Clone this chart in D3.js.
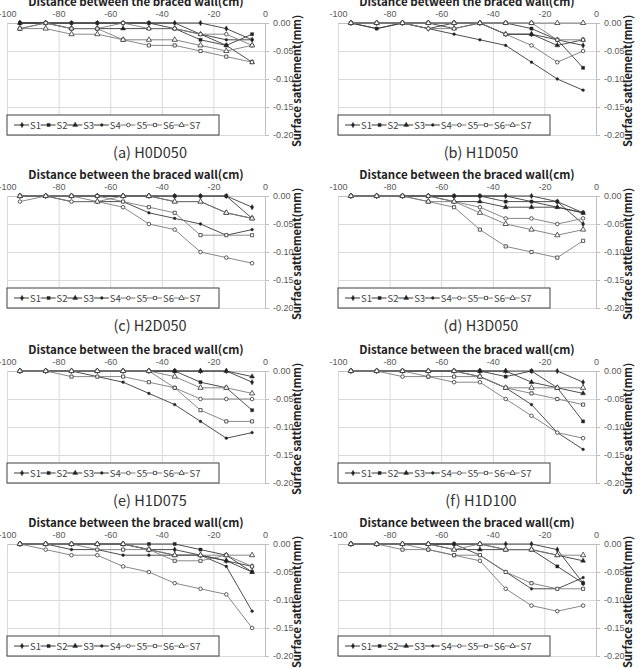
<!DOCTYPE html>
<html>
<head>
<meta charset="utf-8">
<script src="https://cdn.jsdelivr.net/npm/d3@7"></script>
<style>
  body { margin: 0; background: #fff; }
  svg { display: block; font-family: "Noto Sans CJK KR", "Noto Sans", sans-serif; }
</style>
</head>
<body>
<script>
// distance from the braced wall (cm)
var xValues = [-95, -85, -75, -65, -55, -45, -35, -25, -15, -5];
var seriesNames = ["S1", "S2", "S3", "S4", "S5", "S6", "S7"];
var xTicks = [-100, -80, -60, -40, -20, 0];
var yTicks = [0, -0.05, -0.10, -0.15, -0.20];
var captions = ["(a) H0D050", "(b) H1D050", "(c) H2D050", "(d) H3D050", "(e) H1D075", "(f) H1D100", null, null];

// surface settlement (mm), one row per series S1..S7
var h0d050 = [
  [0, 0, 0, 0, 0, 0, 0, 0, -0.01, -0.03],
  [0, 0, 0, 0, 0, 0, -0.01, -0.03, -0.04, -0.02],
  [0, 0, -0.01, -0.01, -0.01, -0.01, -0.01, -0.02, -0.04, -0.07],
  [0, 0, 0, 0, 0, 0, 0, -0.02, -0.03, -0.03],
  [-0.01, 0, -0.01, -0.01, 0, -0.01, -0.01, -0.02, -0.02, -0.04],
  [-0.01, 0, -0.01, -0.01, -0.03, -0.04, -0.04, -0.05, -0.06, -0.07],
  [-0.01, -0.01, -0.02, -0.02, -0.03, -0.03, -0.03, -0.04, -0.05, -0.04]
];
var h1d050 = [
  [0, 0, 0, -0.01, 0, 0, -0.02, -0.02, -0.03, -0.04],
  [0, -0.01, 0, 0, 0, 0, 0, -0.01, -0.03, -0.08],
  [0, 0, 0, 0, -0.01, 0, -0.02, -0.02, -0.04, -0.03],
  [0, -0.01, 0, -0.01, -0.02, -0.03, -0.04, -0.07, -0.10, -0.12],
  [0, 0, 0, -0.01, -0.01, 0, -0.02, -0.04, -0.07, -0.05],
  [0, 0, 0, 0, 0, 0, 0, 0, -0.03, -0.03],
  [0, 0, 0, 0, 0, 0, 0, 0, 0, 0]
];
var h2d050 = [
  [0, 0, 0, 0, 0, 0, 0, 0, 0, -0.02],
  [0, 0, 0, 0, 0, 0, 0, 0, 0, -0.04],
  [0, 0, 0, 0, 0, 0, -0.01, -0.01, -0.03, -0.04],
  [0, 0, -0.01, -0.01, -0.01, -0.03, -0.04, -0.05, -0.07, -0.06],
  [-0.01, 0, -0.01, -0.01, -0.02, -0.05, -0.06, -0.10, -0.11, -0.12],
  [0, 0, 0, 0, -0.01, -0.02, -0.03, -0.07, -0.07, -0.07],
  [0, 0, 0, -0.01, 0, 0, -0.01, -0.01, -0.03, -0.04]
];
var h3d050 = [
  [0, 0, 0, 0, 0, 0, 0, 0, -0.01, -0.05],
  [0, 0, 0, 0, 0, 0, -0.01, -0.01, -0.01, -0.03],
  [0, 0, 0, 0, -0.01, -0.01, -0.02, -0.02, -0.02, -0.03],
  [0, 0, 0, 0, 0, 0, 0, -0.01, -0.02, -0.03],
  [0, 0, 0, 0, -0.01, -0.02, -0.04, -0.04, -0.05, -0.04],
  [0, 0, 0, -0.01, -0.02, -0.06, -0.09, -0.10, -0.11, -0.08],
  [0, 0, 0, -0.01, -0.01, -0.03, -0.05, -0.06, -0.07, -0.06]
];
var h1d075 = [
  [0, 0, 0, 0, 0, 0, 0, 0, 0, -0.02],
  [0, 0, 0, 0, 0, 0, 0, -0.02, -0.03, -0.07],
  [0, 0, 0, 0, 0, 0, 0, 0, 0, -0.01],
  [0, 0, 0, -0.01, -0.02, -0.04, -0.06, -0.09, -0.12, -0.11],
  [0, 0, 0, 0, 0, 0, -0.03, -0.05, -0.05, -0.05],
  [0, 0, -0.01, -0.01, -0.01, -0.02, -0.03, -0.07, -0.09, -0.09],
  [0, 0, 0, 0, 0, 0, -0.01, -0.03, -0.03, -0.04]
];
var h1d100 = [
  [0, 0, 0, 0, 0, 0, 0, 0, 0, -0.02],
  [0, 0, 0, 0, 0, 0, -0.01, 0, -0.03, -0.09],
  [0, 0, 0, 0, 0, 0, 0, -0.02, -0.03, -0.04],
  [0, 0, 0, 0, 0, -0.01, -0.03, -0.06, -0.11, -0.14],
  [0, 0, -0.01, -0.01, -0.02, -0.02, -0.05, -0.08, -0.11, -0.12],
  [0, 0, 0, -0.01, -0.01, -0.01, -0.03, -0.04, -0.05, -0.06],
  [0, 0, 0, 0, 0, -0.01, -0.03, -0.03, -0.03, -0.03]
];
var panelG = [
  [0, 0, 0, 0, 0, -0.01, -0.01, -0.02, -0.03, -0.04],
  [0, 0, 0, 0, 0, 0, 0, -0.01, -0.02, -0.05],
  [0, 0, 0, 0, 0, -0.01, -0.02, -0.02, -0.03, -0.05],
  [0, 0, -0.01, -0.01, -0.02, -0.02, -0.02, -0.02, -0.04, -0.12],
  [0, -0.01, -0.02, -0.02, -0.04, -0.05, -0.07, -0.08, -0.09, -0.15],
  [0, 0, 0, -0.01, -0.01, -0.01, -0.03, -0.03, -0.02, -0.04],
  [0, 0, 0, 0, 0, -0.01, -0.02, -0.02, -0.02, -0.02]
];
var panelH = [
  [0, 0, 0, 0, 0, 0, 0, 0, -0.01, -0.07],
  [0, 0, 0, 0, 0, 0, -0.01, -0.01, -0.04, -0.07],
  [0, 0, 0, 0, -0.01, -0.01, -0.01, -0.01, -0.02, -0.03],
  [0, 0, 0, 0, 0, -0.02, -0.05, -0.08, -0.08, -0.06],
  [0, 0, 0, -0.01, -0.02, -0.03, -0.08, -0.11, -0.12, -0.11],
  [0, 0, -0.01, -0.01, -0.02, -0.02, -0.05, -0.07, -0.08, -0.08],
  [0, 0, 0, 0, -0.01, 0, -0.01, -0.01, -0.02, -0.02]
];
var panels = [h0d050, h1d050, h2d050, h3d050, h1d075, h1d100, panelG, panelH];

// marker style per series
var symbols = [d3.symbolDiamond, d3.symbolSquare, d3.symbolTriangle, d3.symbolCircle, d3.symbolCircle, d3.symbolSquare, d3.symbolTriangle];
var symSize = [9, 10, 11, 6, 10, 10, 12];
var symFill = ["#222", "#222", "#222", "#222", "#fff", "#fff", "#fff"];
var lineColor = ["#3a3a3a", "#3a3a3a", "#3a3a3a", "#3a3a3a", "#7a7a7a", "#7a7a7a", "#7a7a7a"];

var svg = d3.select("body").append("svg")
  .attr("width", 640)
  .attr("height", 668);

var colLeft = [7, 338],
  rowTop = [23, 196, 371, 544],
  pw = 258, ph = 112;

panels.forEach(function(data, i) {
  var left = colLeft[i % 2], top = rowTop[Math.floor(i / 2)];
  var g = svg.append("g");

  var x = d3.scaleLinear().domain([-100, 0]).range([left, left + pw]);
  var y = d3.scaleLinear().domain([0, -0.2]).range([top, top + ph]);

  // gridlines
  g.append("g")
    .attr("transform", `translate(0,${top})`)
    .call(d3.axisBottom(x).tickValues(xTicks.slice(0, -1)).tickSize(ph).tickFormat(""))
    .call(a => a.select(".domain").remove())
    .selectAll("line").attr("stroke", "#d9d9d9");
  g.append("g")
    .attr("transform", `translate(${left},0)`)
    .call(d3.axisRight(y).tickValues(yTicks.slice(1)).tickSize(pw).tickFormat(""))
    .call(a => a.select(".domain").remove())
    .selectAll("line").attr("stroke", "#d9d9d9");

  // x axis on top
  var xa = g.append("g")
    .attr("transform", `translate(0,${top})`)
    .call(d3.axisTop(x).tickValues(xTicks).tickSize(0).tickPadding(6).tickFormat(d => String(d)));
  xa.select(".domain").attr("stroke", "#bfbfbf");
  xa.selectAll("text").attr("fill", "#595959").style("font-size", "9px").attr("font-family", null);

  // y axis on right
  var ya = g.append("g")
    .attr("transform", `translate(${left + pw},0)`)
    .call(d3.axisRight(y).tickValues(yTicks).tickSize(4).tickPadding(4).tickSizeOuter(0).tickFormat(d => d.toFixed(2)));
  ya.select(".domain").attr("stroke", "#bfbfbf");
  ya.selectAll("line").attr("stroke", "#bfbfbf");
  ya.selectAll("text").attr("fill", "#595959").style("font-size", "9px").attr("font-family", null);

  // axis titles
  g.append("text")
    .attr("x", left + pw / 2)
    .attr("y", top - 17)
    .attr("text-anchor", "middle")
    .style("font-size", "11.5px")
    .style("font-weight", "bold")
    .attr("fill", "#222")
    .text("Distance between the braced wall(cm)");
  g.append("text")
    .attr("transform", `translate(${left + pw + 36},${top + ph / 2 + 2}) rotate(-90)`)
    .attr("text-anchor", "middle")
    .style("font-size", "11px")
    .style("font-weight", "bold")
    .attr("fill", "#222")
    .text("Surface sattlement(mm)");

  // series
  var line = d3.line().x((d, k) => x(xValues[k])).y(d => y(d));
  data.forEach(function(vals, s) {
    g.append("path")
      .attr("d", line(vals))
      .attr("fill", "none")
      .attr("stroke", lineColor[s])
      .attr("stroke-width", 0.9);
    g.selectAll(null)
      .data(vals)
      .enter().append("path")
      .attr("transform", (d, k) => `translate(${x(xValues[k])},${y(d)})`)
      .attr("d", d3.symbol().type(symbols[s]).size(symSize[s]))
      .attr("fill", symFill[s])
      .attr("stroke", "#333")
      .attr("stroke-width", s < 4 ? 0.4 : 0.8);
  });

  // legend
  var lg = g.append("g").attr("transform", `translate(${left},${top + ph - 20})`);
  lg.append("rect")
    .attr("width", 212).attr("height", 20)
    .attr("fill", "#fff").attr("stroke", "#404040").attr("stroke-width", 1);
  seriesNames.forEach(function(name, s) {
    var cx = 15 + s * 26.6;
    lg.append("line")
      .attr("x1", cx - 8).attr("x2", cx + 7).attr("y1", 10).attr("y2", 10)
      .attr("stroke", lineColor[s]);
    lg.append("path")
      .attr("transform", `translate(${cx},10)`)
      .attr("d", d3.symbol().type(symbols[s]).size(symSize[s]))
      .attr("fill", symFill[s])
      .attr("stroke", "#333")
      .attr("stroke-width", s < 4 ? 0.4 : 0.8);
    lg.append("text")
      .attr("x", cx + 8).attr("y", 13.5)
      .style("font-size", "9.5px")
      .attr("fill", "#404040")
      .text(name);
  });

  // caption
  if (captions[i]) {
    svg.append("text")
      .attr("x", left + 143)
      .attr("y", top + 135)
      .attr("text-anchor", "middle")
      .style("font-size", "14.5px")
      .attr("fill", "#333")
      .text(captions[i]);
  }
});
</script>
</body>
</html>
